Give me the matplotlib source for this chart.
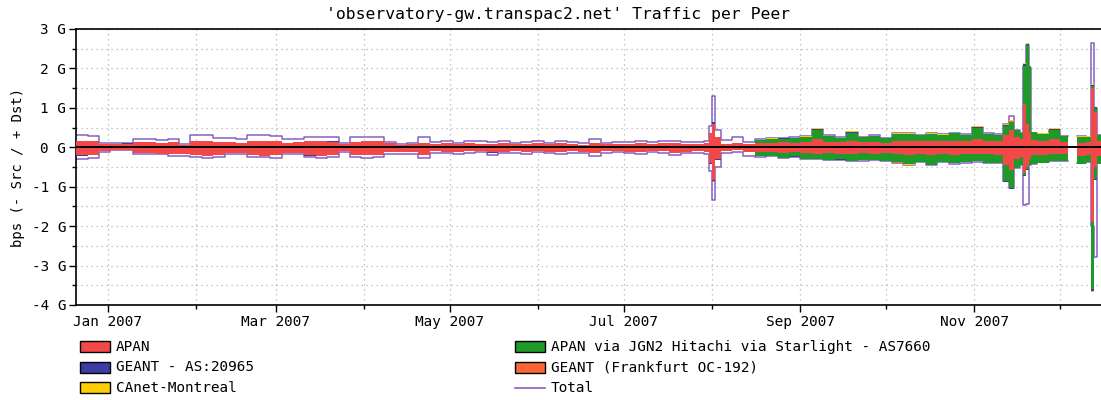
from datetime import datetime

import matplotlib

matplotlib.use("Agg")
import matplotlib.dates as mdates
import matplotlib.pyplot as plt
import numpy as np
from matplotlib.lines import Line2D
from matplotlib.patches import Rectangle

nan = np.nan

# sample start day, counted from 1 Jan 2007 (each value holds until the next day)
days = [
    -11, -7, -3, 1, 5, 9, 13, 17, 21, 25,
    29, 33, 37, 41, 45, 49, 53, 57, 61, 65,
    69, 73, 77, 81, 85, 89, 93, 97, 101, 105,
    109, 113, 117, 121, 125, 129, 133, 137, 141, 145,
    149, 153, 157, 161, 165, 169, 173, 177, 181, 185,
    189, 193, 197, 201, 205, 209,
    211, 212, 213, 215,
    219, 223, 227, 231, 235, 239, 243, 247, 251, 255,
    259, 263, 267, 271, 275, 279, 283, 287, 291, 295,
    299, 303, 307, 311,
    314, 316, 318, 320, 321, 322, 323, 324, 326, 330, 334,
    337, 340, 343, 345, 346, 347, 349,
]
end_day = 352

# Gbps, + Dst / - Src
apan_in = [
    0.16, 0.15, 0.09, 0.09, 0.09, 0.13, 0.14, 0.12, 0.13, 0.07,
    0.15, 0.16, 0.13, 0.14, 0.12, 0.16, 0.15, 0.16, 0.12, 0.13,
    0.15, 0.16, 0.14, 0.09, 0.14, 0.16, 0.15, 0.10, 0.07, 0.08,
    0.11, 0.09, 0.10, 0.08, 0.10, 0.09, 0.08, 0.11, 0.08, 0.09,
    0.10, 0.08, 0.10, 0.09, 0.07, 0.11, 0.08, 0.09, 0.08, 0.10,
    0.09, 0.11, 0.10, 0.08, 0.09, 0.10,
    0.35, 0.60, 0.25, 0.08,
    0.10, 0.08, 0.11, 0.12, 0.13, 0.12, 0.14, 0.20, 0.14, 0.13,
    0.17, 0.13, 0.14, 0.12, 0.15, 0.16, 0.15, 0.16, 0.15, 0.16,
    0.15, 0.22, 0.16, 0.15,
    0.30, 0.43, 0.25, 0.20, 1.10, 0.60, 0.35, 0.18, 0.16, 0.20, 0.14,
    nan, 0.12, 0.13, 1.50, 0.90, 0.15, 0.15,
]
apan_out = [
    -0.20, -0.19, -0.10, -0.07, -0.07, -0.14, -0.15, -0.16, -0.17, -0.16,
    -0.20, -0.21, -0.19, -0.15, -0.14, -0.20, -0.21, -0.20, -0.15, -0.14,
    -0.20, -0.21, -0.19, -0.10, -0.20, -0.20, -0.19, -0.13, -0.12, -0.11,
    -0.19, -0.10, -0.11, -0.12, -0.10, -0.09, -0.13, -0.11, -0.10, -0.12,
    -0.09, -0.11, -0.13, -0.10, -0.11, -0.15, -0.10, -0.09, -0.11, -0.12,
    -0.09, -0.10, -0.14, -0.11, -0.10, -0.12,
    -0.40, -0.83, -0.30, -0.09,
    -0.08, -0.11, -0.13, -0.12, -0.14, -0.13, -0.15, -0.16, -0.15, -0.16,
    -0.17, -0.15, -0.16, -0.15, -0.18, -0.19, -0.18, -0.20, -0.17, -0.19,
    -0.18, -0.17, -0.18, -0.19,
    -0.45, -0.58, -0.30, -0.25, -0.65, -0.50, -0.30, -0.20, -0.19, -0.17, -0.18,
    nan, -0.22, -0.20, -1.90, -0.50, -0.22, -0.22,
]
jgn2_in = [
    0.0, 0.0, 0.0, 0.0, 0.0, 0.0, 0.0, 0.0, 0.0, 0.0,
    0.0, 0.0, 0.0, 0.0, 0.0, 0.0, 0.0, 0.0, 0.0, 0.0,
    0.0, 0.0, 0.0, 0.0, 0.0, 0.0, 0.0, 0.0, 0.0, 0.0,
    0.0, 0.0, 0.0, 0.0, 0.0, 0.0, 0.0, 0.0, 0.0, 0.0,
    0.0, 0.0, 0.0, 0.0, 0.0, 0.0, 0.0, 0.0, 0.0, 0.0,
    0.0, 0.0, 0.0, 0.0, 0.0, 0.0,
    0.0, 0.0, 0.0, 0.0,
    0.0, 0.0, 0.07, 0.10, 0.09, 0.11, 0.12, 0.25, 0.14, 0.10,
    0.20, 0.12, 0.14, 0.11, 0.18, 0.17, 0.15, 0.18, 0.16, 0.19,
    0.16, 0.28, 0.17, 0.16,
    0.25, 0.20, 0.18, 0.15, 0.97, 2.00, 1.70, 0.20, 0.17, 0.25, 0.14,
    nan, 0.15, 0.14, 0.05, 0.10, 0.16, 0.16,
]
jgn2_out = [
    0.0, 0.0, 0.0, 0.0, 0.0, 0.0, 0.0, 0.0, 0.0, 0.0,
    0.0, 0.0, 0.0, 0.0, 0.0, 0.0, 0.0, 0.0, 0.0, 0.0,
    0.0, 0.0, 0.0, 0.0, 0.0, 0.0, 0.0, 0.0, 0.0, 0.0,
    0.0, 0.0, 0.0, 0.0, 0.0, 0.0, 0.0, 0.0, 0.0, 0.0,
    0.0, 0.0, 0.0, 0.0, 0.0, 0.0, 0.0, 0.0, 0.0, 0.0,
    0.0, 0.0, 0.0, 0.0, 0.0, 0.0,
    0.0, 0.0, 0.0, 0.0,
    0.0, 0.0, -0.09, -0.10, -0.12, -0.10, -0.14, -0.13, -0.17, -0.14,
    -0.18, -0.18, -0.16, -0.19, -0.20, -0.24, -0.19, -0.24, -0.20, -0.22,
    -0.20, -0.19, -0.21, -0.20,
    -0.40, -0.46, -0.22, -0.20, -0.05, -0.05, -0.15, -0.22, -0.20, -0.19, -0.18,
    nan, -0.20, -0.18, -1.70, -0.30, -0.20, -0.20,
]
geant_in = [
    0.01, 0.0, 0.0, 0.0, 0.01, 0.0, 0.0, 0.0, 0.0, 0.0,
    0.0, 0.01, 0.0, 0.0, 0.0, 0.0, 0.01, 0.0, 0.0, 0.0,
    0.0, 0.0, 0.01, 0.0, 0.0, 0.0, 0.0, 0.0, 0.0, 0.0,
    0.0, 0.0, 0.0, 0.01, 0.0, 0.0, 0.0, 0.0, 0.0, 0.0,
    0.01, 0.0, 0.0, 0.0, 0.0, 0.0, 0.0, 0.0, 0.0, 0.01,
    0.0, 0.0, 0.0, 0.0, 0.0, 0.0,
    0.02, 0.03, 0.01, 0.0,
    0.0, 0.0, 0.0, 0.0, 0.01, 0.0, 0.0, 0.01, 0.0, 0.0,
    0.01, 0.0, 0.0, 0.0, 0.01, 0.0, 0.0, 0.0, 0.01, 0.0,
    0.0, 0.01, 0.0, 0.0,
    0.01, 0.02, 0.0, 0.0, 0.03, 0.02, 0.01, 0.0, 0.0, 0.01, 0.0,
    nan, 0.0, 0.0, 0.03, 0.02, 0.0, 0.0,
]
geant_out = [
    -0.01, 0.0, 0.0, 0.0, 0.0, -0.01, 0.0, 0.0, 0.0, 0.0,
    0.0, 0.0, -0.01, 0.0, 0.0, 0.0, 0.0, 0.0, 0.0, 0.0,
    -0.01, 0.0, 0.0, 0.0, 0.0, 0.0, -0.01, 0.0, 0.0, 0.0,
    0.0, 0.0, 0.0, 0.0, 0.0, 0.0, -0.01, 0.0, 0.0, 0.0,
    0.0, 0.0, 0.0, 0.0, -0.01, 0.0, 0.0, 0.0, 0.0, 0.0,
    0.0, 0.0, -0.01, 0.0, 0.0, 0.0,
    -0.02, -0.03, -0.01, 0.0,
    0.0, 0.0, 0.0, 0.0, 0.0, -0.01, 0.0, 0.0, 0.0, -0.01,
    0.0, 0.0, 0.0, -0.01, 0.0, 0.0, 0.0, -0.01, 0.0, 0.0,
    0.0, 0.0, -0.01, 0.0,
    -0.02, -0.02, 0.0, 0.0, -0.03, -0.02, 0.0, 0.0, -0.01, 0.0, 0.0,
    nan, 0.0, 0.0, -0.04, -0.02, 0.0, 0.0,
]
frankfurt_in = [
    0.0, 0.0, 0.0, 0.0, 0.0, 0.0, 0.0, 0.0, 0.0, 0.0,
    0.0, 0.0, 0.0, 0.0, 0.0, 0.0, 0.0, 0.0, 0.0, 0.0,
    0.0, 0.0, 0.0, 0.0, 0.0, 0.0, 0.0, 0.0, 0.0, 0.0,
    0.0, 0.0, 0.0, 0.0, 0.0, 0.0, 0.0, 0.0, 0.0, 0.0,
    0.0, 0.0, 0.0, 0.0, 0.0, 0.0, 0.0, 0.0, 0.0, 0.0,
    0.0, 0.0, 0.0, 0.0, 0.0, 0.0,
    0.0, 0.01, 0.0, 0.0,
    0.0, 0.0, 0.0, 0.0, 0.0, 0.0, 0.01, 0.0, 0.0, 0.0,
    0.01, 0.0, 0.0, 0.0, 0.0, 0.01, 0.0, 0.0, 0.0, 0.0,
    0.0, 0.01, 0.0, 0.0,
    0.0, 0.01, 0.0, 0.0, 0.01, 0.01, 0.0, 0.0, 0.0, 0.0, 0.0,
    nan, 0.0, 0.0, 0.01, 0.0, 0.0, 0.0,
]
frankfurt_out = [
    0.0, 0.0, 0.0, 0.0, 0.0, 0.0, 0.0, 0.0, 0.0, 0.0,
    0.0, 0.0, 0.0, 0.0, 0.0, 0.0, 0.0, 0.0, 0.0, 0.0,
    0.0, 0.0, 0.0, 0.0, 0.0, 0.0, 0.0, 0.0, 0.0, 0.0,
    0.0, 0.0, 0.0, 0.0, 0.0, 0.0, 0.0, 0.0, 0.0, 0.0,
    0.0, 0.0, 0.0, 0.0, 0.0, 0.0, 0.0, 0.0, 0.0, 0.0,
    0.0, 0.0, 0.0, 0.0, 0.0, 0.0,
    0.0, -0.01, 0.0, 0.0,
    0.0, 0.0, 0.0, 0.0, 0.0, 0.0, 0.0, 0.0, -0.01, 0.0,
    0.0, 0.0, 0.0, 0.0, -0.01, 0.0, 0.0, 0.0, 0.0, 0.0,
    0.0, 0.0, 0.0, 0.0,
    -0.01, 0.0, 0.0, 0.0, -0.01, 0.0, 0.0, 0.0, 0.0, 0.0, 0.0,
    nan, 0.0, 0.0, -0.01, 0.0, 0.0, 0.0,
]
canet_in = [
    0.0, 0.0, 0.0, 0.0, 0.0, 0.0, 0.0, 0.0, 0.0, 0.0,
    0.0, 0.0, 0.0, 0.0, 0.0, 0.0, 0.0, 0.0, 0.0, 0.0,
    0.0, 0.0, 0.0, 0.0, 0.0, 0.0, 0.0, 0.0, 0.0, 0.0,
    0.0, 0.0, 0.0, 0.0, 0.0, 0.0, 0.0, 0.0, 0.0, 0.0,
    0.0, 0.0, 0.0, 0.0, 0.0, 0.0, 0.0, 0.0, 0.0, 0.0,
    0.0, 0.0, 0.0, 0.0, 0.0, 0.0,
    0.0, 0.0, 0.0, 0.0,
    0.0, 0.0, 0.0, 0.01, 0.0, 0.0, 0.01, 0.02, 0.0, 0.01,
    0.02, 0.0, 0.01, 0.0, 0.02, 0.01, 0.01, 0.02, 0.01, 0.02,
    0.01, 0.02, 0.01, 0.01,
    0.02, 0.02, 0.01, 0.01, 0.02, 0.02, 0.01, 0.01, 0.02, 0.02, 0.01,
    nan, 0.01, 0.01, 0.02, 0.01, 0.01, 0.01,
]
canet_out = [
    0.0, 0.0, 0.0, 0.0, 0.0, 0.0, 0.0, 0.0, 0.0, 0.0,
    0.0, 0.0, 0.0, 0.0, 0.0, 0.0, 0.0, 0.0, 0.0, 0.0,
    0.0, 0.0, 0.0, 0.0, 0.0, 0.0, 0.0, 0.0, 0.0, 0.0,
    0.0, 0.0, 0.0, 0.0, 0.0, 0.0, 0.0, 0.0, 0.0, 0.0,
    0.0, 0.0, 0.0, 0.0, 0.0, 0.0, 0.0, 0.0, 0.0, 0.0,
    0.0, 0.0, 0.0, 0.0, 0.0, 0.0,
    0.0, 0.0, 0.0, 0.0,
    0.0, 0.0, 0.0, 0.0, -0.01, 0.0, 0.0, 0.0, 0.0, -0.01,
    0.0, 0.0, 0.0, 0.0, 0.0, -0.01, 0.0, 0.0, 0.0, 0.0,
    0.0, 0.0, -0.01, 0.0,
    0.0, -0.01, 0.0, 0.0, 0.0, 0.0, 0.0, 0.0, 0.0, 0.0, 0.0,
    nan, 0.0, 0.0, -0.01, 0.0, 0.0, 0.0,
]
total_in = [
    0.30, 0.28, 0.10, 0.10, 0.10, 0.20, 0.20, 0.19, 0.20, 0.08,
    0.30, 0.31, 0.23, 0.23, 0.22, 0.30, 0.30, 0.29, 0.21, 0.21,
    0.27, 0.27, 0.26, 0.12, 0.27, 0.27, 0.26, 0.13, 0.09, 0.10,
    0.25, 0.14, 0.15, 0.12, 0.16, 0.15, 0.13, 0.17, 0.12, 0.14,
    0.15, 0.12, 0.16, 0.14, 0.11, 0.22, 0.12, 0.14, 0.13, 0.16,
    0.14, 0.17, 0.15, 0.13, 0.14, 0.16,
    0.55, 1.31, 0.45, 0.18,
    0.25, 0.13, 0.22, 0.23, 0.24, 0.25, 0.28, 0.47, 0.30, 0.25,
    0.40, 0.27, 0.30, 0.24, 0.35, 0.35, 0.32, 0.36, 0.33, 0.37,
    0.33, 0.52, 0.35, 0.33,
    0.60, 0.80, 0.45, 0.36, 2.05, 2.60, 2.00, 0.36, 0.33, 0.45, 0.28,
    nan, 0.28, 0.27, 2.65, 1.00, 0.31, 0.31,
]
total_out = [
    -0.29, -0.28, -0.12, -0.08, -0.08, -0.17, -0.17, -0.18, -0.21, -0.21,
    -0.25, -0.26, -0.25, -0.18, -0.18, -0.25, -0.25, -0.26, -0.18, -0.18,
    -0.25, -0.26, -0.25, -0.12, -0.25, -0.26, -0.24, -0.17, -0.17, -0.16,
    -0.28, -0.14, -0.15, -0.18, -0.14, -0.13, -0.19, -0.15, -0.14, -0.17,
    -0.13, -0.15, -0.18, -0.14, -0.15, -0.22, -0.14, -0.13, -0.15, -0.18,
    -0.13, -0.14, -0.20, -0.15, -0.14, -0.17,
    -0.60, -1.34, -0.50, -0.15,
    -0.13, -0.21, -0.25, -0.23, -0.27, -0.24, -0.30, -0.30, -0.33, -0.31,
    -0.36, -0.34, -0.33, -0.35, -0.39, -0.44, -0.38, -0.45, -0.38, -0.42,
    -0.39, -0.37, -0.40, -0.40,
    -0.85, -1.02, -0.52, -0.45, -1.47, -1.45, -0.45, -0.42, -0.38, -0.36, -0.35,
    nan, -0.40, -0.38, -2.00, -2.78, -0.40, -0.40,
]

peer_names = [
    "APAN",
    "APAN via JGN2 Hitachi via Starlight - AS7660",
    "GEANT - AS:20965",
    "GEANT (Frankfurt OC-192)",
    "CAnet-Montreal",
]
peer_colors = ["#f24848", "#1e9a28", "#3c3ca4", "#ff6633", "#ffcc00"]
total_color = "#8560c0"

y_ticks = [-4, -3, -2, -1, 0, 1, 2, 3]

FONT = "DejaVu Sans Mono"


def as_steps(values):
    edges = np.append(np.array(days, dtype=float), end_day)
    xs = np.repeat(edges, 2)[1:-1]
    ys = np.repeat(np.array(values, dtype=float), 2)
    return xs, ys


if __name__ == "__main__":
    plt.rcParams["font.family"] = FONT

    fig = plt.figure(figsize=(11.01, 4.0), dpi=100)
    ax = fig.add_axes([76 / 1101, 95 / 400, 1025 / 1101, 276 / 400])

    base = mdates.date2num(datetime(2007, 1, 1))

    layers_in = [apan_in, jgn2_in, geant_in, frankfurt_in, canet_in]
    layers_out = [apan_out, jgn2_out, geant_out, frankfurt_out, canet_out]

    for layers in (layers_in, layers_out):
        xs, cum = as_steps([0.0] * len(days))
        for values, color in zip(layers, peer_colors):
            _, ys = as_steps(values)
            ax.fill_between(base + xs, cum, cum + ys, color=color, linewidth=0, zorder=3)
            cum = cum + ys

    # total sits under the stacked areas, so it only shows where it sticks out
    for values in (total_in, total_out):
        xs, ys = as_steps(values)
        ax.plot(base + xs, ys, color=total_color, linewidth=1.1, zorder=2.5)

    ax.axhline(0, color="black", linewidth=1.4, zorder=5)

    ax.set_xlim(base - 11.1, base + 348.4)
    ax.set_ylim(-4, 3)

    ax.xaxis.set_major_locator(mdates.MonthLocator(bymonth=[1, 3, 5, 7, 9, 11]))
    ax.xaxis.set_major_formatter(mdates.DateFormatter("%b %Y"))
    ax.xaxis.set_minor_locator(mdates.MonthLocator())
    ax.set_yticks(y_ticks)
    ax.set_yticklabels([f"{v} G" for v in y_ticks])
    ax.set_yticks(np.arange(-3.5, 3.0, 1.0), minor=True)

    ax.tick_params(axis="both", which="major", labelsize=10.4, length=5, width=1,
                   color="black", pad=2)
    ax.tick_params(axis="both", which="minor", length=3, width=1, color="black")

    ax.grid(True, which="both", color="#b4b4b4", linestyle=(0, (1, 3)), linewidth=0.9)
    ax.set_axisbelow(True)

    for side in ("left", "bottom", "top"):
        ax.spines[side].set_color("black")
        ax.spines[side].set_linewidth(1.2)
    ax.spines["right"].set_visible(False)

    fig.text(558 / 1101, 1 - 14 / 400, "'observatory-gw.transpac2.net' Traffic per Peer",
             ha="center", va="center", fontsize=11.8)
    fig.text(18 / 1101, 1 - 167 / 400, "bps (- Src / + Dst)", rotation=90,
             ha="center", va="center", fontsize=10)

    # legend, two columns like rrdtool
    rows = [346.7, 367.3, 387.7]
    slots = [(80, rows[0]), (515, rows[0]), (80, rows[1]), (515, rows[1]), (80, rows[2])]
    for (lx, ly), name, color in zip(slots, peer_names, peer_colors):
        fig.patches.append(Rectangle((lx / 1101, 1 - (ly + 5.5) / 400), 30 / 1101, 11 / 400,
                                     transform=fig.transFigure, facecolor=color,
                                     edgecolor="black", linewidth=1.0))
        fig.text((lx + 36) / 1101, 1 - ly / 400, name, ha="left", va="center", fontsize=10.4)
    fig.lines.append(Line2D([515 / 1101, 545 / 1101], [1 - rows[2] / 400] * 2,
                            transform=fig.transFigure, color=total_color, linewidth=1.2))
    fig.text(551 / 1101, 1 - rows[2] / 400, "Total", ha="left", va="center", fontsize=10.4)

    fig.savefig("out.png", dpi=100)
